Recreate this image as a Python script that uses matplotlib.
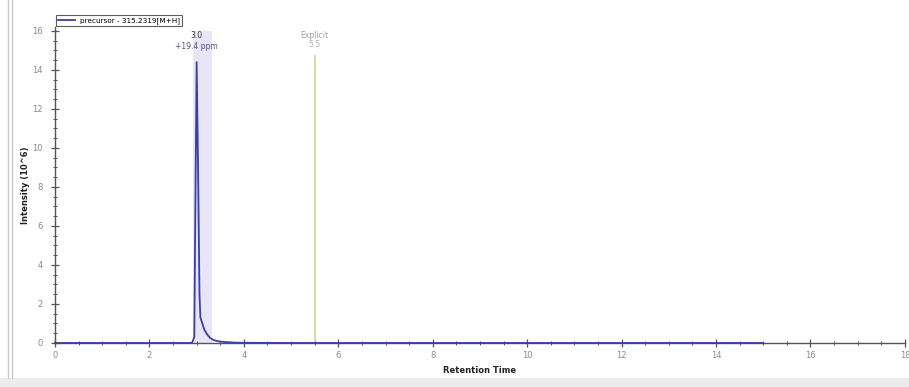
import numpy as np
import matplotlib.pyplot as plt
from matplotlib.lines import Line2D
from matplotlib.patches import Rectangle

# chromatogram trace (retention time, intensity in 10^6)
rt = [0.0, 2.90, 2.95, 2.98, 3.00, 3.03, 3.06, 3.08, 3.12, 3.16, 3.22, 3.28,
      3.35, 3.45, 3.60, 3.80, 4.00, 5.00, 15.0]
intensity = [0.0, 0.0, 0.3, 9.0, 14.4, 9.0, 2.5, 1.3, 1.0, 0.7, 0.45, 0.27,
             0.16, 0.09, 0.05, 0.02, 0.01, 0.0, 0.0]

peak_rt = 3.0
peak_ppm = "+19.4 ppm"
band = (2.92, 3.33)
explicit_rt = 5.5
explicit_height = 14.7
legend_label = "precursor - 315.2319[M+H]"

line_col = "#3c3fa3"
band_col = "#e7e5f6"
explicit_col = "#d9d49a"
axis_col = "#555555"
tick_txt = "#8a8a8a"

fig = plt.figure(figsize=(9.09, 3.87), dpi=100)
ax = fig.add_axes([0.0605, 0.1137, 0.935, 0.8165])

ax.add_patch(Rectangle((band[0], 0), band[1] - band[0], 16.0,
                       facecolor=band_col, edgecolor="none", zorder=0))
ax.plot([explicit_rt, explicit_rt], [0, explicit_height], color=explicit_col, lw=1.3, zorder=1)
ax.plot(rt, intensity, color=line_col, lw=1.3, label=legend_label, zorder=3, clip_on=False)

ax.text(peak_rt, 15.55, f"{peak_rt:.1f}", ha="center", va="bottom", fontsize=5.5, color="#333333")
ax.text(peak_rt, 14.95, peak_ppm, ha="center", va="bottom", fontsize=5.5, color="#555577")
ax.text(explicit_rt, 15.55, "Explicit", ha="center", va="bottom", fontsize=5.5, color="#a0a0a0")
ax.text(explicit_rt, 15.05, f"{explicit_rt}", ha="center", va="bottom", fontsize=5.5, color="#b0b0b0")

ax.set_xlim(0, 18)
ax.set_ylim(0, 16.2)
ax.set_xticks(np.arange(0, 19, 2))
ax.set_xticks(np.arange(0, 18.01, 0.5), minor=True)
ax.set_yticks(np.arange(0, 17, 2))
ax.set_yticks(np.arange(0, 16.01, 0.5), minor=True)

for s in ["top", "right"]:
    ax.spines[s].set_visible(False)
for s in ["left", "bottom"]:
    ax.spines[s].set_color(axis_col)
    ax.spines[s].set_linewidth(1.0)

ax.tick_params(axis="both", which="major", direction="inout", length=6, width=0.9,
               color=axis_col, labelsize=6, labelcolor=tick_txt)
ax.tick_params(axis="both", which="minor", direction="inout", length=3, width=0.7, color=axis_col)
ax.tick_params(axis="x", pad=3)
ax.tick_params(axis="y", pad=6)

ax.set_xlabel("Retention Time", fontsize=6, fontweight="bold", color="#222222", labelpad=4)
ax.set_ylabel("Intensity (10^6)", fontsize=6, fontweight="bold", color="#222222")

leg = ax.legend(loc="lower left", bbox_to_anchor=(0.0, 1.0), fontsize=5.2, frameon=True,
                fancybox=False, borderpad=0.3, handlelength=2.4, handletextpad=0.6,
                borderaxespad=0.1)
leg.get_frame().set_edgecolor("#333333")
leg.get_frame().set_linewidth(0.8)

# screenshot frame
fig.add_artist(Line2D([8 / 909, 8 / 909], [9 / 387, 1], color="#c8c8c8", lw=1.0))
fig.add_artist(Line2D([12 / 909, 12 / 909], [9 / 387, 1], color="#c8c8c8", lw=1.0))
fig.add_artist(Rectangle((0, 0), 1, 9 / 387, facecolor="#ececec", edgecolor="none"))

# y label centred near x=25 px like the reference
ax.yaxis.set_label_coords((30 - 55) / (0.935 * 909), 0.5)

fig.savefig("out.png", dpi=100)
